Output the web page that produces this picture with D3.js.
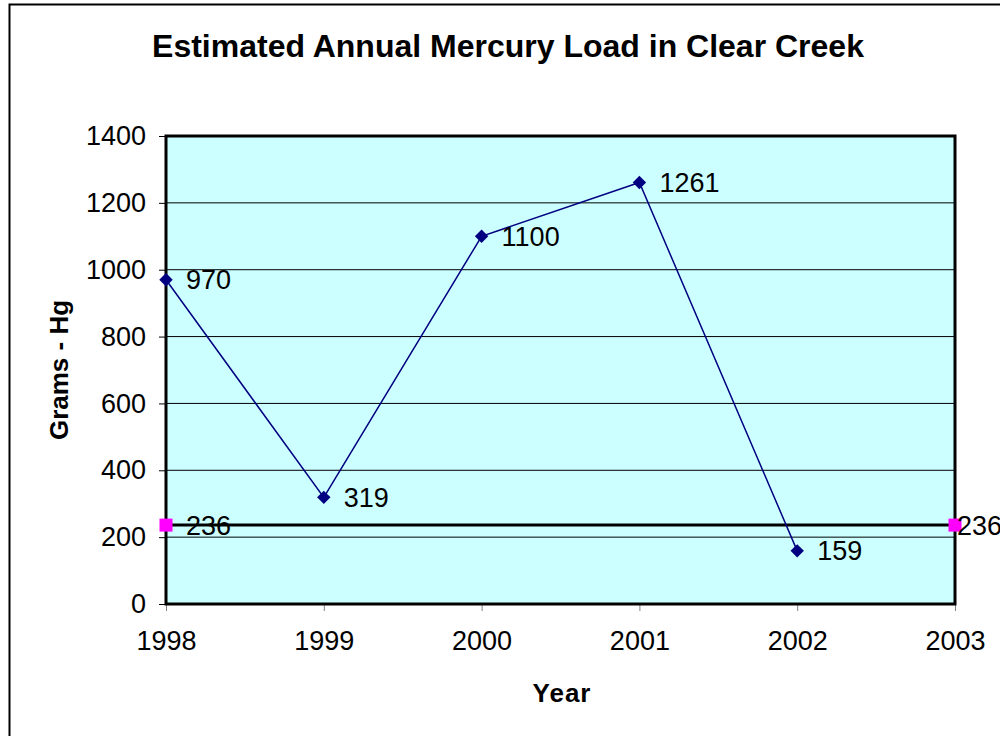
<!DOCTYPE html>
<html>
<head>
<meta charset="utf-8">
<script src="https://cdn.jsdelivr.net/npm/d3@7"></script>
<style>
  body { margin: 0; background: #fff; }
  svg { display: block; font-family: "Liberation Sans", Arial, sans-serif; }
</style>
</head>
<body>
<div id="chart"></div>
<script>
// data
var years = [1998, 1999, 2000, 2001, 2002];
var loads = [970, 319, 1100, 1261, 159];
var limitYears = [1998, 2003];
var limitValue = 236;
var xTicks = [1998, 1999, 2000, 2001, 2002, 2003];
var yTicks = [0, 200, 400, 600, 800, 1000, 1200, 1400];

var W = 1000, H = 736;
var margin = { top: 136, right: 45, bottom: 132, left: 166 },
    width = W - margin.left - margin.right,
    height = H - margin.top - margin.bottom;

var root = d3.select("#chart").append("svg")
    .attr("width", W)
    .attr("height", H);

// outer chart border
root.append("rect")
    .attr("x", 9.5).attr("y", 4.5)
    .attr("width", 1010).attr("height", 760)
    .attr("fill", "none")
    .attr("stroke", "#000")
    .attr("stroke-width", 2);

var svg = root.append("g")
    .attr("transform", "translate(" + margin.left + "," + margin.top + ")");

var x = d3.scaleLinear().domain([1998, 2003]).range([0, width]);
var y = d3.scaleLinear().domain([0, 1400]).range([height, 0]);

// plot background
svg.append("rect")
    .attr("width", width).attr("height", height)
    .attr("fill", "#ccffff");

// gridlines
svg.append("g")
    .selectAll("line")
    .data(yTicks.slice(1, -1))
    .enter().append("line")
    .attr("x1", 0).attr("x2", width)
    .attr("y1", d => y(d)).attr("y2", d => y(d))
    .attr("stroke", "#000")
    .attr("stroke-width", 1);

// y axis
var yAxis = svg.append("g")
    .call(d3.axisLeft(y).tickValues(yTicks).tickSize(7).tickPadding(13).tickFormat(d3.format("d")));
yAxis.select(".domain").remove();
yAxis.selectAll("text").attr("font-size", "27px").attr("font-family", "Liberation Sans, Arial, sans-serif").attr("fill", "#000");
yAxis.selectAll("line").attr("stroke", "#000");

// x axis
var xAxis = svg.append("g")
    .attr("transform", "translate(0," + height + ")")
    .call(d3.axisBottom(x).tickValues(xTicks).tickSize(7).tickPadding(20).tickFormat(d3.format("d")));
xAxis.select(".domain").remove();
xAxis.selectAll("text").attr("font-size", "27px").attr("font-family", "Liberation Sans, Arial, sans-serif").attr("fill", "#000");
xAxis.selectAll("line").attr("stroke", "#808080");

// plot border
svg.append("rect")
    .attr("width", width).attr("height", height)
    .attr("fill", "none")
    .attr("stroke", "#000")
    .attr("stroke-width", 3);

// limit line 236
svg.append("line")
    .attr("x1", x(limitYears[0])).attr("x2", x(limitYears[1]))
    .attr("y1", y(limitValue)).attr("y2", y(limitValue))
    .attr("stroke", "#000")
    .attr("stroke-width", 3);

svg.selectAll(".limitpt")
    .data(limitYears)
    .enter().append("rect")
    .attr("class", "limitpt")
    .attr("x", d => x(d) - 6.5).attr("y", y(limitValue) - 6.5)
    .attr("width", 13).attr("height", 13)
    .attr("fill", "#ff00ff");

svg.selectAll(".limitlbl")
    .data(limitYears)
    .enter().append("text")
    .attr("class", "limitlbl")
    .attr("x", (d, i) => x(d) + (i === 0 ? 20 : 2))
    .attr("y", y(limitValue))
    .attr("dy", "0.35em")
    .attr("font-size", "27px")
    .text(limitValue);

// load series
var line = d3.line()
    .x((d, i) => x(years[i]))
    .y(d => y(d));

svg.append("path")
    .datum(loads)
    .attr("d", line)
    .attr("fill", "none")
    .attr("stroke", "#000080")
    .attr("stroke-width", 1.5);

svg.selectAll(".pt")
    .data(loads)
    .enter().append("path")
    .attr("class", "pt")
    .attr("d", d3.symbol().type(d3.symbolDiamond2).size(115))
    .attr("transform", (d, i) => "translate(" + x(years[i]) + "," + y(d) + ")")
    .attr("fill", "#000080");

svg.selectAll(".lbl")
    .data(loads)
    .enter().append("text")
    .attr("class", "lbl")
    .attr("x", (d, i) => x(years[i]) + 20)
    .attr("y", d => y(d))
    .attr("dy", "0.35em")
    .attr("font-size", "27px")
    .text(d => d);

// title
root.append("text")
    .attr("x", 508).attr("y", 57)
    .attr("text-anchor", "middle")
    .attr("font-size", "32px")
    .attr("font-weight", "bold")
    .text("Estimated Annual Mercury Load in Clear Creek");

// axis titles
root.append("text")
    .attr("x", 562).attr("y", 702)
    .attr("text-anchor", "middle")
    .attr("font-size", "26px")
    .attr("font-weight", "bold")
    .attr("letter-spacing", "1px")
    .text("Year");

root.append("text")
    .attr("transform", "translate(68,370) rotate(-90)")
    .attr("text-anchor", "middle")
    .attr("font-size", "26px")
    .attr("font-weight", "bold")
    .text("Grams - Hg");
</script>
</body>
</html>
